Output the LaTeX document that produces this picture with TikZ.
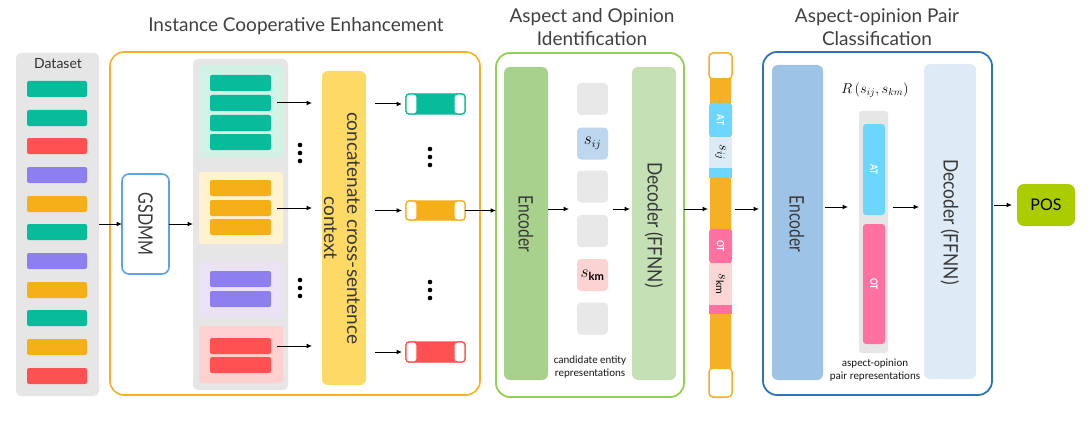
\documentclass[tikz,border=0pt]{standalone}
\usepackage{fontspec}
\setmainfont{Lato}
\newfontfamily\smallfont{Carlito}
\usetikzlibrary{arrows.meta}
\definecolor{teal}{HTML}{06BC9B}
\definecolor{red}{HTML}{FF5052}
\definecolor{purple}{HTML}{8D7FEF}
\definecolor{orange}{HTML}{F5AF17}
\definecolor{ltgreen}{HTML}{D3F2E6}
\definecolor{ltyellow}{HTML}{FFF3CF}
\definecolor{ltpurple}{HTML}{EBE2F3}
\definecolor{ltred}{HTML}{FFD0D0}
\definecolor{panelgray}{HTML}{E6E6E6}
\definecolor{orangeb}{HTML}{F5B025}
\definecolor{concat}{HTML}{FDD966}
\definecolor{gsblue}{HTML}{5BA4E6}
\definecolor{greenb}{HTML}{92D050}
\definecolor{encA}{HTML}{A9D18E}
\definecolor{decA}{HTML}{C5E0B4}
\definecolor{candgray}{HTML}{E8E8E8}
\definecolor{sijblue}{HTML}{BDD7EE}
\definecolor{skmpink}{HTML}{FBD3D3}
\definecolor{cyan}{HTML}{6DD6FF}
\definecolor{pink}{HTML}{FF71A0}
\definecolor{sijlight}{HTML}{DDEBF7}
\definecolor{skmlight}{HTML}{FCD5D5}
\definecolor{blueb}{HTML}{2E75B6}
\definecolor{encB}{HTML}{9DC3E6}
\definecolor{decB}{HTML}{DEEBF7}
\definecolor{posc}{HTML}{AACC00}
\newcommand\bx[7]{\node[#6,minimum width={(#4)-(#2)},minimum height={(#5)-(#3)}] (#1) at ({((#2)+(#4))/2},{((#3)+(#5))/2}) {#7};}
\begin{document}
\begin{tikzpicture}[x=1pt,y=-1pt,
  every node/.style={inner sep=0pt,outer sep=0pt},
  arr/.style={-{Latex[length=5.5pt,width=5pt]},line width=1pt,black},
  title/.style={font=\fontsize{19}{23.5}\selectfont,align=center,text=black!75},
  big/.style={font=\fontsize{20}{23}\selectfont,rotate=-90,text=black!78},
  bar/.style={rounded corners=2,minimum height=16},
  tag/.style={font=\bfseries\fontsize{10}{11}\selectfont,text=white,rotate=-90},
  small/.style={font=\smallfont\fontsize{11}{12.5}\selectfont,align=center,text=black!90},
  dotc/.style={fill=black}]
\useasboundingbox[fill=white] (0,0) rectangle (1088,428);
% titles
\node[title,anchor=base] (t1) at (296,32) {Instance Cooperative Enhancement};
\node[title] (t2) at (592,27) {Aspect and Opinion\\Identification};
\node[title] (t3) at (877,27) {Aspect-opinion Pair\\Classification};
% dataset
\bx{ds}{16}{53}{99}{396}{fill=panelgray,rounded corners=5}{}
\node[font=\fontsize{14}{16}\selectfont,anchor=base,text=black!80] (dsl) at (58,69) {Dataset};
\foreach \y/\c [count=\i] in {89/teal,118/teal,146/red,175/purple,204/orange,232/teal,261/purple,290/orange,318/teal,347/orange,376/red}
  {\node[bar,fill=\c,minimum width=60] (d\i) at (57,\y) {};}
% ICE box
\bx{ice}{110}{52}{480}{395}{draw=orangeb,line width=1.6,rounded corners=14}{}
\bx{gs}{122}{174}{169}{274}{draw=gsblue,line width=1.6,rounded corners=7,fill=white}{}
\node[big] (gsl) at (145.5,224) {\scalebox{0.8}[1]{GSDMM}};
\draw[arr] (ds.east |- gs.west) -- (gs.west);
\bx{cp}{193}{59}{288}{390}{fill=panelgray,rounded corners=5}{}
\draw[arr] (gs.east) -- (cp.west |- gs.east);
\bx{c1}{199}{65}{283}{157}{fill=ltgreen,rounded corners=3}{}
\bx{c2}{199}{172}{283}{244}{fill=ltyellow,rounded corners=3}{}
\bx{c3}{199}{261}{283}{318}{fill=ltpurple,rounded corners=3}{}
\bx{c4}{199}{326}{283}{383}{fill=ltred,rounded corners=3}{}
\foreach \y [count=\i] in {83,103,123,142} {\node[bar,fill=teal,minimum width=61] (ca\i) at (240.5,\y) {};}
\foreach \y [count=\i] in {188,208,227} {\node[bar,fill=orange,minimum width=61] (cb\i) at (240.5,\y) {};}
\foreach \y [count=\i] in {279,299} {\node[bar,fill=purple,minimum width=61] (cc\i) at (240.5,\y) {};}
\foreach \y [count=\i] in {346,365} {\node[bar,fill=red,minimum width=61] (cd\i) at (240.5,\y) {};}
\bx{cat}{322}{71}{366}{385}{fill=concat,rounded corners=6}{}
\node[big,align=center,font=\fontsize{19}{23}\selectfont] (catl) at (342,228) {concatenate cross-sentence\\context};
\draw[arr,shorten <=6pt,shorten >=10pt] (ca2.east) -- (cat.west |- ca2.east);
\draw[arr,shorten <=6pt,shorten >=10pt] (cb2.east) -- (cat.west |- cb2.east);
\draw[arr,shorten <=6pt,shorten >=10pt] (cd1.east) -- (cat.west |- cd1.east);
\foreach \yy in {153,288} {\foreach \d in {-8,0,8} {\fill[dotc] (300,\yy+\d) circle (2.3);}}
% output bars
\foreach \n/\ya/\yb/\c in {o1/94/114/teal,o2/201/220/orange,o3/342/362/red}{
  \bx{\n}{406}{\ya}{465}{\yb}{fill=\c,draw=\c,line width=1.2,rounded corners=3}{}
  \bx{\n l}{406}{\ya}{417}{\yb}{fill=white,draw=\c,line width=1.2,rounded corners=3}{}
  \bx{\n r}{454}{\ya}{465}{\yb}{fill=white,draw=\c,line width=1.2,rounded corners=3}{}
  \draw[arr,shorten <=9pt,shorten >=4pt] (cat.east |- \n.west) -- (\n.west);
}
\foreach \yy in {157,290} {\foreach \d in {-8,0,8} {\fill[dotc] (430,\yy+\d) circle (2.3);}}
% AOI box
\bx{aoi}{496}{53}{684}{397}{draw=greenb,line width=1.8,rounded corners=14}{}
\draw[arr] (o2.east) -- (aoi.west |- o2.east);
\bx{encA}{504}{67}{548}{380}{fill=encA,rounded corners=6}{}
\node[big] (encAl) at (526,224) {\scalebox{0.78}[1]{Encoder}};
\bx{decA}{632}{67}{676}{380}{fill=decA,rounded corners=6}{}
\node[big] (decAl) at (654,225) {\scalebox{0.87}[1]{Decoder (FFNN)}};
\bx{cand}{577}{83}{608}{335}{}{}
\foreach \y/\c/\t [count=\i] in {99/candgray/,143.5/sijblue/$s_{ij}$,186.5/candgray/,231/candgray/,275/skmpink/$s_{\mathbf{km}}$,318.5/candgray/}
  {\node[fill=\c,rounded corners=4,minimum width=31,minimum height=32,font=\fontsize{16}{18}\selectfont] (s\i) at (592.5,\y) {\t};}
\node[small] (candl) at (590,367) {candidate entity\\representations};
\draw[arr,shorten >=8pt] (encA.east |- cand) -- (cand.west);
\draw[arr,shorten <=5pt,shorten >=2pt] (cand.east) -- (decA.west |- cand.east);
% strip
\bx{sbody}{710}{76}{731}{372}{fill=orangeb}{}
\bx{stop}{709}{53}{732}{79}{fill=white,draw=orangeb,line width=1.5,rounded corners=4}{}
\bx{sbot}{709}{368}{732}{397}{fill=white,draw=orangeb,line width=1.5,rounded corners=4}{}
\bx{sat}{709}{103}{732}{137}{fill=cyan,rounded corners=3}{}
\node[tag] (satl) at (sat) {\scalebox{0.85}[1]{AT}};
\bx{ssij}{709}{137}{732}{168}{fill=sijlight}{}
\node[rotate=-90,font=\fontsize{15}{16}\selectfont] (ssijl) at (ssij) {$s_{ij}$};
\bx{sbandA}{709}{168}{732}{178}{fill=cyan}{}
\bx{sot}{709}{229}{732}{263}{fill=pink,rounded corners=3}{}
\node[tag] (sotl) at (sot) {\scalebox{0.85}[1]{OT}};
\bx{sskm}{709}{263}{732}{305}{fill=skmlight}{}
\node[rotate=-90,font=\fontsize{15}{16}\selectfont] (sskml) at (sskm) {$s_{\mathrm{km}}$};
\bx{sbandB}{709}{305}{732}{314}{fill=pink}{}
\draw[arr,shorten >=2pt] (aoi.east |- cand) -- (sbody.west |- cand);
% AOPC box
\bx{aopc}{763}{52}{992}{395}{draw=blueb,line width=1.8,rounded corners=14}{}
\draw[arr,shorten <=4pt,shorten >=4pt] (sbody.east |- cand) -- (aopc.west |- cand);
\bx{encB}{772}{65}{823}{380}{fill=encB,rounded corners=6}{}
\node[big] (encBl) at (797,224) {\scalebox{0.78}[1]{Encoder}};
\bx{decB}{924}{64}{976}{379}{fill=decB,rounded corners=6}{}
\node[big] (decBl) at (950,222) {\scalebox{0.87}[1]{Decoder (FFNN)}};
\coordinate (m2) at (875,207);
\bx{pair}{859}{111}{888}{353}{fill=panelgray,rounded corners=3}{}
\bx{pat}{863}{124}{885}{215}{fill=cyan,rounded corners=3}{}
\node[tag] (patl) at (pat) {\scalebox{0.85}[1]{AT}};
\bx{pot}{863}{224}{885}{344}{fill=pink,rounded corners=3}{}
\node[tag] (potl) at (pot) {\scalebox{0.85}[1]{OT}};
\node[font=\fontsize{14}{16}\selectfont] (rl) at (875,90) {$R\left(s_{ij},s_{km}\right)$};
\node[small] (pairl) at (875,370) {aspect-opinion\\pair representations};
\draw[arr,shorten <=2pt,shorten >=11pt] (encB.east |- m2) -- (pair.west |- m2);
\draw[arr,shorten <=5pt,shorten >=5pt] (pair.east |- m2) -- (decB.west |- m2);
\bx{pos}{1017}{184}{1075}{226}{fill=posc,rounded corners=7,font=\fontsize{16}{18}\selectfont}{POS}
\draw[arr,shorten <=2pt,shorten >=5pt] (aopc.east |- pos) -- (pos.west);
\end{tikzpicture}
\end{document}
